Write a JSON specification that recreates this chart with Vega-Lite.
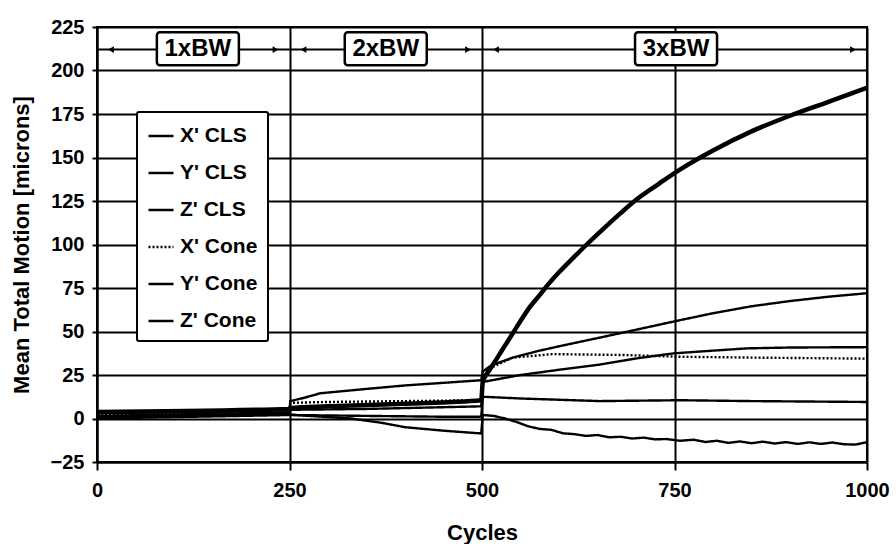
{
  "$schema": "https://vega.github.io/schema/vega-lite/v6.json",
  "width": 770,
  "height": 435,
  "autosize": {"type": "none"},
  "padding": {"left": 97, "top": 27, "right": 29, "bottom": 82},
  "background": "white",
  "config": {
    "font": "Liberation Sans",
    "view": {"stroke": "black", "strokeWidth": 2},
    "axis": {
      "domainColor": "black", "domainWidth": 2,
      "gridColor": "black", "gridWidth": 2, "gridOpacity": 1,
      "tickColor": "black", "tickWidth": 2,
      "labelFont": "Liberation Sans", "labelFontWeight": "bold", "labelFontSize": 20, "labelColor": "black",
      "titleFont": "Liberation Sans", "titleFontWeight": "bold", "titleFontSize": 22, "titleColor": "black"
    }
  },
  "datasets": {
    "series": [
      {"series": "Z' Cone", "cycle": 0, "value": 3.8},
      {"series": "Z' Cone", "cycle": 250, "value": 5.5},
      {"series": "Z' Cone", "cycle": 251, "value": 6},
      {"series": "Z' Cone", "cycle": 300, "value": 7},
      {"series": "Z' Cone", "cycle": 400, "value": 8.5},
      {"series": "Z' Cone", "cycle": 499, "value": 10.5},
      {"series": "Z' Cone", "cycle": 501, "value": 21},
      {"series": "Z' Cone", "cycle": 510, "value": 28},
      {"series": "Z' Cone", "cycle": 520, "value": 35},
      {"series": "Z' Cone", "cycle": 530, "value": 42},
      {"series": "Z' Cone", "cycle": 540, "value": 49},
      {"series": "Z' Cone", "cycle": 550, "value": 56},
      {"series": "Z' Cone", "cycle": 562, "value": 64},
      {"series": "Z' Cone", "cycle": 575, "value": 71},
      {"series": "Z' Cone", "cycle": 584, "value": 76},
      {"series": "Z' Cone", "cycle": 600, "value": 84},
      {"series": "Z' Cone", "cycle": 620, "value": 93},
      {"series": "Z' Cone", "cycle": 636, "value": 100},
      {"series": "Z' Cone", "cycle": 660, "value": 110},
      {"series": "Z' Cone", "cycle": 680, "value": 118},
      {"series": "Z' Cone", "cycle": 701, "value": 126},
      {"series": "Z' Cone", "cycle": 730, "value": 135},
      {"series": "Z' Cone", "cycle": 757, "value": 143},
      {"series": "Z' Cone", "cycle": 800, "value": 154},
      {"series": "Z' Cone", "cycle": 850, "value": 165},
      {"series": "Z' Cone", "cycle": 900, "value": 174},
      {"series": "Z' Cone", "cycle": 950, "value": 182},
      {"series": "Z' Cone", "cycle": 987, "value": 188},
      {"series": "Z' Cone", "cycle": 1000, "value": 190},

      {"series": "Y' Cone", "cycle": 0, "value": 3},
      {"series": "Y' Cone", "cycle": 250, "value": 4.8},
      {"series": "Y' Cone", "cycle": 251, "value": 10},
      {"series": "Y' Cone", "cycle": 270, "value": 12},
      {"series": "Y' Cone", "cycle": 290, "value": 14.5},
      {"series": "Y' Cone", "cycle": 350, "value": 17},
      {"series": "Y' Cone", "cycle": 400, "value": 19},
      {"series": "Y' Cone", "cycle": 450, "value": 20.5},
      {"series": "Y' Cone", "cycle": 499, "value": 22},
      {"series": "Y' Cone", "cycle": 501, "value": 27},
      {"series": "Y' Cone", "cycle": 512, "value": 30.5},
      {"series": "Y' Cone", "cycle": 540, "value": 35},
      {"series": "Y' Cone", "cycle": 570, "value": 38.5},
      {"series": "Y' Cone", "cycle": 600, "value": 41.5},
      {"series": "Y' Cone", "cycle": 653, "value": 46.5},
      {"series": "Y' Cone", "cycle": 700, "value": 51},
      {"series": "Y' Cone", "cycle": 757, "value": 56.5},
      {"series": "Y' Cone", "cycle": 800, "value": 60.5},
      {"series": "Y' Cone", "cycle": 850, "value": 64.5},
      {"series": "Y' Cone", "cycle": 900, "value": 67.5},
      {"series": "Y' Cone", "cycle": 950, "value": 70},
      {"series": "Y' Cone", "cycle": 1000, "value": 72},

      {"series": "X' Cone", "cycle": 0, "value": 2.2},
      {"series": "X' Cone", "cycle": 250, "value": 4},
      {"series": "X' Cone", "cycle": 251, "value": 9},
      {"series": "X' Cone", "cycle": 300, "value": 9.5},
      {"series": "X' Cone", "cycle": 400, "value": 10},
      {"series": "X' Cone", "cycle": 499, "value": 10.5},
      {"series": "X' Cone", "cycle": 501, "value": 27},
      {"series": "X' Cone", "cycle": 540, "value": 35},
      {"series": "X' Cone", "cycle": 592, "value": 37},
      {"series": "X' Cone", "cycle": 683, "value": 36.5},
      {"series": "X' Cone", "cycle": 757, "value": 35.5},
      {"series": "X' Cone", "cycle": 850, "value": 35},
      {"series": "X' Cone", "cycle": 1000, "value": 34.4},

      {"series": "X' CLS", "cycle": 0, "value": 0.8},
      {"series": "X' CLS", "cycle": 250, "value": 2.8},
      {"series": "X' CLS", "cycle": 251, "value": 5},
      {"series": "X' CLS", "cycle": 350, "value": 5.5},
      {"series": "X' CLS", "cycle": 450, "value": 6.5},
      {"series": "X' CLS", "cycle": 499, "value": 7},
      {"series": "X' CLS", "cycle": 501, "value": 21},
      {"series": "X' CLS", "cycle": 550, "value": 25},
      {"series": "X' CLS", "cycle": 600, "value": 28},
      {"series": "X' CLS", "cycle": 653, "value": 31},
      {"series": "X' CLS", "cycle": 700, "value": 34.5},
      {"series": "X' CLS", "cycle": 748, "value": 37.4},
      {"series": "X' CLS", "cycle": 800, "value": 39},
      {"series": "X' CLS", "cycle": 844, "value": 40.3},
      {"series": "X' CLS", "cycle": 900, "value": 40.8},
      {"series": "X' CLS", "cycle": 1000, "value": 41},

      {"series": "Y' CLS", "cycle": 0, "value": 0},
      {"series": "Y' CLS", "cycle": 250, "value": 2},
      {"series": "Y' CLS", "cycle": 251, "value": 2},
      {"series": "Y' CLS", "cycle": 350, "value": 1.5},
      {"series": "Y' CLS", "cycle": 450, "value": 1},
      {"series": "Y' CLS", "cycle": 499, "value": 1},
      {"series": "Y' CLS", "cycle": 501, "value": 12.5},
      {"series": "Y' CLS", "cycle": 550, "value": 11.5},
      {"series": "Y' CLS", "cycle": 653, "value": 10},
      {"series": "Y' CLS", "cycle": 757, "value": 10.5},
      {"series": "Y' CLS", "cycle": 850, "value": 10},
      {"series": "Y' CLS", "cycle": 1000, "value": 9.5},

      {"series": "Z' CLS", "cycle": 0, "value": 1.5},
      {"series": "Z' CLS", "cycle": 250, "value": 3.5},
      {"series": "Z' CLS", "cycle": 251, "value": 2.2},
      {"series": "Z' CLS", "cycle": 330, "value": 0},
      {"series": "Z' CLS", "cycle": 370, "value": -2.5},
      {"series": "Z' CLS", "cycle": 400, "value": -5},
      {"series": "Z' CLS", "cycle": 450, "value": -7},
      {"series": "Z' CLS", "cycle": 499, "value": -8.6},
      {"series": "Z' CLS", "cycle": 501, "value": 2},
      {"series": "Z' CLS", "cycle": 515, "value": 1.5},
      {"series": "Z' CLS", "cycle": 530, "value": 0},
      {"series": "Z' CLS", "cycle": 545, "value": -2},
      {"series": "Z' CLS", "cycle": 560, "value": -4.5},
      {"series": "Z' CLS", "cycle": 575, "value": -6},
      {"series": "Z' CLS", "cycle": 590, "value": -6.5},
      {"series": "Z' CLS", "cycle": 605, "value": -8.5},
      {"series": "Z' CLS", "cycle": 620, "value": -9},
      {"series": "Z' CLS", "cycle": 635, "value": -10},
      {"series": "Z' CLS", "cycle": 650, "value": -9.5},
      {"series": "Z' CLS", "cycle": 665, "value": -10.8},
      {"series": "Z' CLS", "cycle": 680, "value": -10.5},
      {"series": "Z' CLS", "cycle": 695, "value": -11.5},
      {"series": "Z' CLS", "cycle": 710, "value": -11},
      {"series": "Z' CLS", "cycle": 725, "value": -12},
      {"series": "Z' CLS", "cycle": 740, "value": -11.8},
      {"series": "Z' CLS", "cycle": 757, "value": -12.8},
      {"series": "Z' CLS", "cycle": 775, "value": -12.2},
      {"series": "Z' CLS", "cycle": 790, "value": -13.5},
      {"series": "Z' CLS", "cycle": 805, "value": -12.8},
      {"series": "Z' CLS", "cycle": 820, "value": -14},
      {"series": "Z' CLS", "cycle": 835, "value": -13.2},
      {"series": "Z' CLS", "cycle": 850, "value": -14.2},
      {"series": "Z' CLS", "cycle": 865, "value": -13.3},
      {"series": "Z' CLS", "cycle": 880, "value": -14.4},
      {"series": "Z' CLS", "cycle": 895, "value": -13.6},
      {"series": "Z' CLS", "cycle": 910, "value": -14.6},
      {"series": "Z' CLS", "cycle": 925, "value": -13.7},
      {"series": "Z' CLS", "cycle": 940, "value": -14.6},
      {"series": "Z' CLS", "cycle": 955, "value": -13.8},
      {"series": "Z' CLS", "cycle": 970, "value": -14.8},
      {"series": "Z' CLS", "cycle": 985, "value": -15},
      {"series": "Z' CLS", "cycle": 1000, "value": -13.6}
    ],
    "phases": [
      {"label": "1xBW", "start": 0, "end": 250, "mid": 131},
      {"label": "2xBW", "start": 250, "end": 500, "mid": 375},
      {"label": "3xBW", "start": 500, "end": 1000, "mid": 752}
    ]
  },
  "layer": [
    {
      "data": {"name": "series"},
      "transform": [{"filter": "datum.series !== \"Z' Cone\""}],
      "mark": {"type": "line", "interpolate": "linear", "strokeWidth": 2.4},
      "encoding": {
        "x": {
          "field": "cycle", "type": "quantitative",
          "scale": {"domain": [0, 1000], "nice": false},
          "axis": {"values": [0, 250, 500, 750, 1000], "format": "d", "tickSize": 8, "labelPadding": 10, "labelFlush": false, "title": "Cycles", "titlePadding": 22}
        },
        "y": {
          "field": "value", "type": "quantitative",
          "scale": {"domain": [-25, 225], "nice": false},
          "axis": {"values": [-25, 0, 25, 50, 75, 100, 125, 150, 175, 200, 225], "format": "d", "tickSize": 5, "labelPadding": 8, "title": "Mean Total Motion [microns]", "titlePadding": 17}
        },
        "color": {
          "field": "series", "type": "nominal",
          "scale": {"domain": ["X' CLS", "Y' CLS", "Z' CLS", "X' Cone", "Y' Cone", "Z' Cone"], "range": ["black", "black", "black", "black", "black", "black"]},
          "legend": {
            "title": null, "orient": "none", "legendX": 40, "legendY": 85,
            "fillColor": "white", "strokeColor": "black", "padding": 10, "cornerRadius": 2,
            "symbolType": "stroke", "symbolSize": 625, "symbolStrokeWidth": 2.5, "symbolStrokeColor": "black",
            "labelFontSize": 21, "labelFontWeight": "bold", "labelColor": "black", "labelFont": "Liberation Sans",
            "rowPadding": 13, "labelOffset": 5,
            "encode": {
              "legend": {"update": {"strokeWidth": {"value": 2}}},
              "symbols": {"update": {
                "shape": {"value": "stroke"}, "size": {"value": 625}, "stroke": {"value": "black"},
                "strokeWidth": {"value": 2.5},
                "strokeDash": {"value": [1, 0]}
              }}
            }
          }
        },
        "strokeDash": {
          "field": "series", "type": "nominal",
          "scale": {"domain": ["X' CLS", "Y' CLS", "Z' CLS", "X' Cone", "Y' Cone", "Z' Cone"], "range": [[1, 0], [1, 0], [1, 0], [2, 2], [1, 0], [1, 0]]},
          "legend": null
        }
      }
    },
    {
      "data": {"name": "series"},
      "transform": [{"filter": "datum.series === \"Z' Cone\""}],
      "mark": {"type": "line", "interpolate": "monotone", "strokeWidth": 4.5},
      "encoding": {
        "x": {"field": "cycle", "type": "quantitative"},
        "y": {"field": "value", "type": "quantitative"},
        "color": {"field": "series", "type": "nominal"}
      }
    },
    {
      "data": {"name": "phases"},
      "mark": {"type": "rule", "color": "black", "strokeWidth": 2},
      "encoding": {
        "x": {"field": "start", "type": "quantitative"},
        "x2": {"field": "end"},
        "y": {"datum": 212}
      }
    },
    {
      "data": {"name": "phases"},
      "mark": {"type": "point", "shape": "triangle-left", "filled": true, "color": "black", "opacity": 1, "size": 45, "xOffset": 14},
      "encoding": {
        "x": {"field": "start", "type": "quantitative"},
        "y": {"datum": 212}
      }
    },
    {
      "data": {"name": "phases"},
      "mark": {"type": "point", "shape": "triangle-right", "filled": true, "color": "black", "opacity": 1, "size": 45, "xOffset": -14},
      "encoding": {
        "x": {"field": "end", "type": "quantitative"},
        "y": {"datum": 212}
      }
    },
    {
      "data": {"name": "phases"},
      "mark": {"type": "rect", "width": 82, "height": 33, "fill": "white", "stroke": "black", "strokeWidth": 2.5, "cornerRadius": 3},
      "encoding": {
        "x": {"field": "mid", "type": "quantitative"},
        "y": {"datum": 212.5}
      }
    },
    {
      "data": {"name": "phases"},
      "mark": {"type": "text", "fontSize": 24, "fontWeight": "bold", "font": "Liberation Sans", "align": "center", "baseline": "middle", "color": "black"},
      "encoding": {
        "x": {"field": "mid", "type": "quantitative"},
        "y": {"datum": 212.5},
        "text": {"field": "label"}
      }
    }
  ]
}
